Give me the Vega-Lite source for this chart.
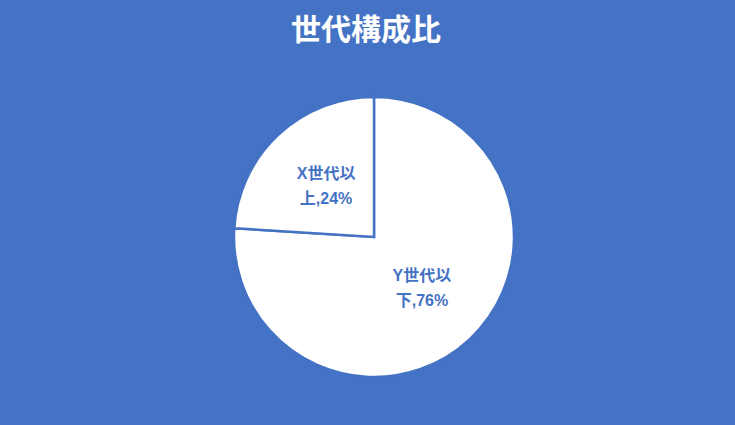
{
  "$schema": "https://vega.github.io/schema/vega-lite/v6.json",
  "autosize": {"type": "fit", "contains": "padding"},
  "width": 735,
  "height": 425,
  "padding": {"left": 13, "right": 0, "top": 16, "bottom": 0},
  "background": "#4472C4",
  "title": {
    "text": "世代構成比",
    "font": "Noto Sans CJK JP",
    "fontSize": 30,
    "fontWeight": "bold",
    "color": "white",
    "anchor": "middle",
    "dx": -8,
    "offset": 3
  },
  "data": {
    "values": [
      {"group": "Y世代以下", "label": "Y世代以\n下,76%", "share": 76, "order": 1},
      {"group": "X世代以上", "label": "X世代以\n上,24%", "share": 24, "order": 2}
    ]
  },
  "encoding": {
    "theta": {"field": "share", "type": "quantitative", "stack": true},
    "order": {"field": "order", "type": "quantitative"}
  },
  "layer": [
    {
      "mark": {"type": "arc", "outerRadius": 140, "fill": "white", "stroke": "#4472C4", "strokeWidth": 2.5}
    },
    {
      "mark": {
        "type": "text",
        "radius": 70,
        "dy": -12,
        "font": "Liberation Sans, Noto Sans CJK JP",
        "fontSize": 16,
        "fontWeight": "bold",
        "color": "#4472C4",
        "lineBreak": "\n",
        "lineHeight": 25,
        "align": "center",
        "baseline": "middle"
      },
      "encoding": {"text": {"field": "label"}}
    }
  ],
  "config": {"view": {"stroke": null}}
}
